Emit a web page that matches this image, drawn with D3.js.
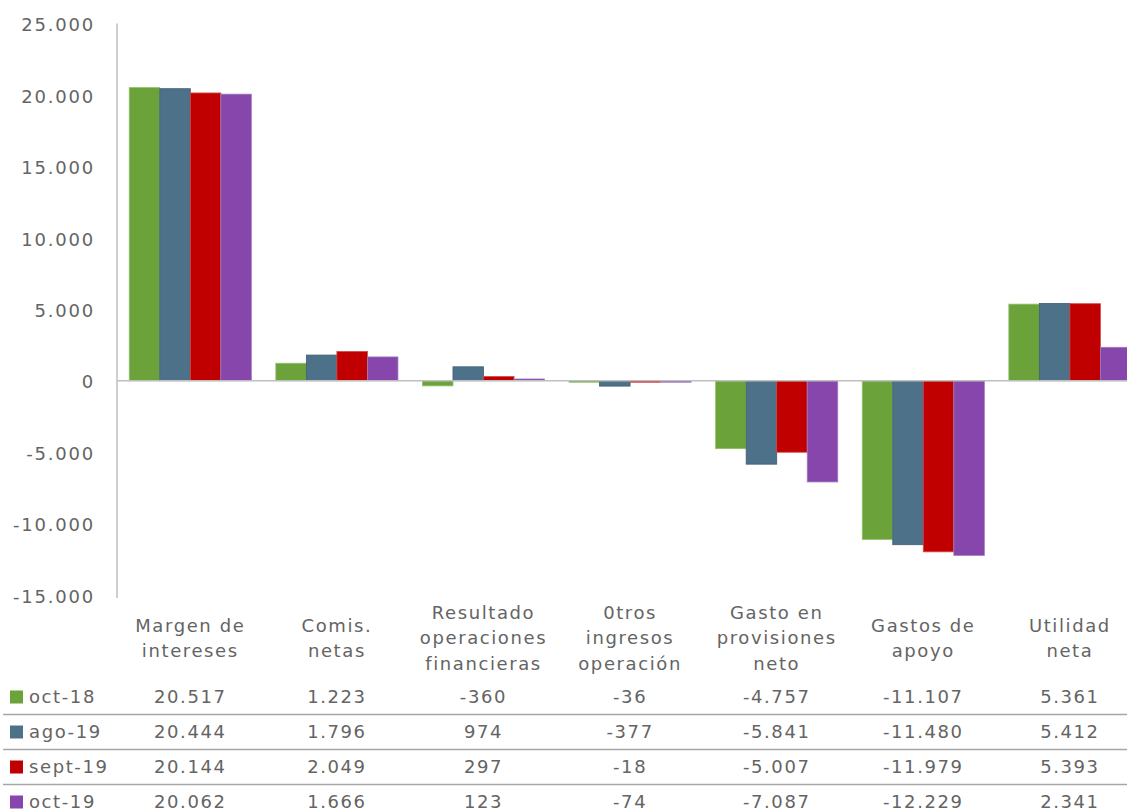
<!DOCTYPE html>
<html>
<head>
<meta charset="utf-8">
<script src="https://cdn.jsdelivr.net/npm/d3@7"></script>
<style>
  body { margin: 0; background: #fff; }
  text { font-family: "DejaVu Sans", Verdana, sans-serif; fill: #646464; }
</style>
</head>
<body>
<div id="chart"></div>
<script>
const categories = [
  ["Margen de", "intereses"],
  ["Comis.", "netas"],
  ["Resultado", "operaciones", "financieras"],
  ["0tros", "ingresos", "operación"],
  ["Gasto en", "provisiones", "neto"],
  ["Gastos de", "apoyo"],
  ["Utilidad", "neta"]
];
const seriesNames = ["oct-18", "ago-19", "sept-19", "oct-19"];
const oct18 = [20517, 1223, -360, -36, -4757, -11107, 5361];
const ago19 = [20444, 1796, 974, -377, -5841, -11480, 5412];
const sept19 = [20144, 2049, 297, -18, -5007, -11979, 5393];
const oct19 = [20062, 1666, 123, -74, -7087, -12229, 2341];
const yTicks = [25000, 20000, 15000, 10000, 5000, 0, -5000, -10000, -15000];
const colors = ["#6ba33a", "#4d7188", "#c00000", "#8646ab"];
const edges = ["#8fbf6a", "#3d5f75", "#d44a4a", "#a07cc0"];

const series = [oct18, ago19, sept19, oct19];
const width = 1127, height = 812;
const axisX = 117;

const locale = d3.formatLocale({ decimal: ",", thousands: ".", grouping: [3], currency: ["", ""], minus: "-" });
const fmt = locale.format(",d");

const svg = d3.select("#chart").append("svg")
  .attr("width", width)
  .attr("height", height);

const keys = categories.map((c, i) => i);

// x scale per category, runs a bit past the right edge like the original
const x0 = d3.scaleBand()
  .domain(keys)
  .range([axisX, axisX + 7 * 146.6])
  .paddingInner(0.167)
  .paddingOuter(0.0835);

const x1 = d3.scaleBand()
  .domain(d3.range(series.length))
  .range([0, x0.bandwidth()]);

const y = d3.scaleLinear()
  .domain([-15000, 25000])
  .range([595, 23.6]);

// Bars
const groups = svg.append("g").selectAll("g")
  .data(keys)
  .join("g")
  .attr("transform", d => `translate(${x0(d)},0)`);

groups.selectAll("rect")
  .data(i => series.map((s, j) => ({ j, v: s[i] })))
  .join("rect")
  .attr("x", d => x1(d.j))
  .attr("y", d => y(Math.max(0, d.v)))
  .attr("width", x1.bandwidth())
  .attr("height", d => Math.max(1.5, Math.abs(y(d.v) - y(0))))
  .attr("fill", d => colors[d.j])
  .attr("stroke", d => edges[d.j])
  .attr("stroke-width", 0.8);

// Y axis
const yAxis = svg.append("g")
  .attr("transform", `translate(${axisX},0)`)
  .call(d3.axisLeft(y).tickValues(yTicks).tickFormat(fmt).tickSize(0).tickPadding(22));
yAxis.select(".domain").attr("stroke", "#bfbfbf").attr("stroke-width", 1.5)
  .attr("d", `M0,${y(25000)}V${y(-15000) + 3}`);
yAxis.selectAll(".tick text")
  .attr("font-size", 18)
  .attr("letter-spacing", "1.8px")
  .attr("dy", "0.4em")
  .style("fill", "#646464")
  .style("font-family", "'DejaVu Sans', Verdana, sans-serif");

// Zero line
svg.append("line")
  .attr("x1", axisX).attr("x2", width)
  .attr("y1", y(0)).attr("y2", y(0))
  .attr("stroke", "#bfbfbf").attr("stroke-width", 1.5);

// Category labels
const labelCenter = 638, lineH = 25.5;
svg.append("g").selectAll("text")
  .data(keys)
  .join("text")
  .attr("x", d => x0(d) + x0.bandwidth() / 2)
  .attr("text-anchor", "middle")
  .attr("font-size", 18)
  .attr("letter-spacing", "1.6px")
  .each(function (d) {
    const lines = categories[d];
    const start = labelCenter - (lines.length - 1) * lineH / 2;
    d3.select(this).selectAll("tspan")
      .data(lines)
      .join("tspan")
      .attr("x", x0(d) + x0.bandwidth() / 2)
      .attr("y", (l, k) => start + k * lineH)
      .attr("dy", "0.36em")
      .text(l => l);
  });

// Data table
const rowY = seriesNames.map((s, i) => 697 + i * 35);

svg.append("g").selectAll("line")
  .data(rowY.slice(0, -1))
  .join("line")
  .attr("x1", 3).attr("x2", width)
  .attr("y1", d => d + 17.5).attr("y2", d => d + 17.5)
  .attr("stroke", "#a6a6a6").attr("stroke-width", 1.5);

const rows = svg.append("g").selectAll("g")
  .data(seriesNames)
  .join("g")
  .attr("transform", (d, i) => `translate(0,${rowY[i]})`);

rows.append("rect")
  .attr("x", 10).attr("y", -6.5)
  .attr("width", 13).attr("height", 13)
  .attr("fill", (d, i) => colors[i]);

rows.append("text")
  .attr("x", 29).attr("dy", "0.36em")
  .attr("font-size", 18)
  .attr("letter-spacing", "1.6px")
  .text(d => d);

rows.selectAll("text.val")
  .data((d, i) => series[i].map((v, k) => ({ v, k })))
  .join("text")
  .attr("class", "val")
  .attr("x", d => x0(d.k) + x0.bandwidth() / 2)
  .attr("dy", "0.36em")
  .attr("text-anchor", "middle")
  .attr("font-size", 18)
  .attr("letter-spacing", "1.6px")
  .text(d => fmt(d.v));
</script>
</body>
</html>
